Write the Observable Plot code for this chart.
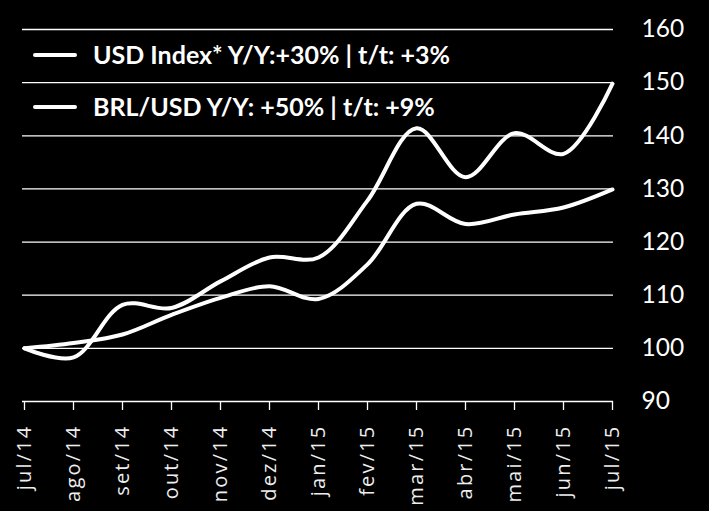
<!DOCTYPE html>
<html><head><meta charset="utf-8">
<script src="https://cdn.jsdelivr.net/npm/d3@7"></script>
<script src="https://cdn.jsdelivr.net/npm/@observablehq/plot@0.6"></script>
<style>
html,body{margin:0;padding:0;background:#000;}
#wrap{position:relative;width:709px;height:511px;background:#000;overflow:hidden;}
.leg{position:absolute;left:33px;font-family:Lato,sans-serif;font-weight:700;font-size:25px;color:#fff;display:flex;align-items:center;white-space:nowrap;line-height:1;}
.leg .sw{width:44px;height:4px;background:#fff;margin-right:16px;border-radius:2px;}
svg g[aria-label="x-axis tick label"] text{letter-spacing:2.2px;fill:#eee;}
</style></head><body><div id="wrap"></div>
<script>
const months = ["jul/14","ago/14","set/14","out/14","nov/14","dez/14","jan/15","fev/15","mar/15","abr/15","mai/15","jun/15","jul/15"];
const brlUsd   = [100, 98.3, 108.2, 107.6, 112.6, 117.1, 117.1, 127.8, 141.4, 132.2, 140.5, 136.6, 149.8];
const usdIndex = [100, 101.0, 102.6, 106.3, 109.5, 111.7, 109.3, 115.8, 127.2, 123.4, 125.2, 126.5, 129.9];
const yTicks = [90, 100, 110, 120, 130, 140, 150, 160];
const seriesNames = ["USD Index* Y/Y:+30% | t/t: +3%", "BRL/USD Y/Y: +50% | t/t: +9%"];

const data = [
  ...months.map((m, i) => ({month: m, value: usdIndex[i], series: seriesNames[0]})),
  ...months.map((m, i) => ({month: m, value: brlUsd[i], series: seriesNames[1]}))
];

const chart = Plot.plot({
  width: 709, height: 511,
  marginLeft: 22, marginRight: 96, marginTop: 29, marginBottom: 110,
  style: {background: "#000", color: "#fff", fontFamily: "Lato, sans-serif"},
  x: {type: "point", domain: months, padding: 0},
  y: {domain: [90, 160]},
  marks: [
    Plot.ruleY(yTicks, {stroke: "#fff", strokeWidth: 1.3}),
    Plot.axisX({tickSize: 9, tickRotate: -90, tickPadding: 14, stroke: "#fff", strokeWidth: 1.3, fontSize: 20, fontFamily: "Open Sans", label: null}),
    Plot.axisY({anchor: "right", ticks: yTicks, tickSize: 0, tickPadding: 28, fontSize: 24.5, fontFamily: "Lato", label: null}),
    Plot.line(data, {x: "month", y: "value", z: "series", stroke: "#fff", strokeWidth: 4, curve: "catmull-rom"})
  ]
});
const wrap = document.getElementById("wrap");
wrap.appendChild(chart);
seriesNames.forEach((name, i) => {
  const d = document.createElement("div");
  d.className = "leg";
  d.style.top = (i === 0 ? 42 : 94) + "px";
  const sw = document.createElement("span"); sw.className = "sw";
  const t = document.createElement("span"); t.textContent = name;
  d.appendChild(sw); d.appendChild(t);
  wrap.appendChild(d);
});
</script></body></html>
